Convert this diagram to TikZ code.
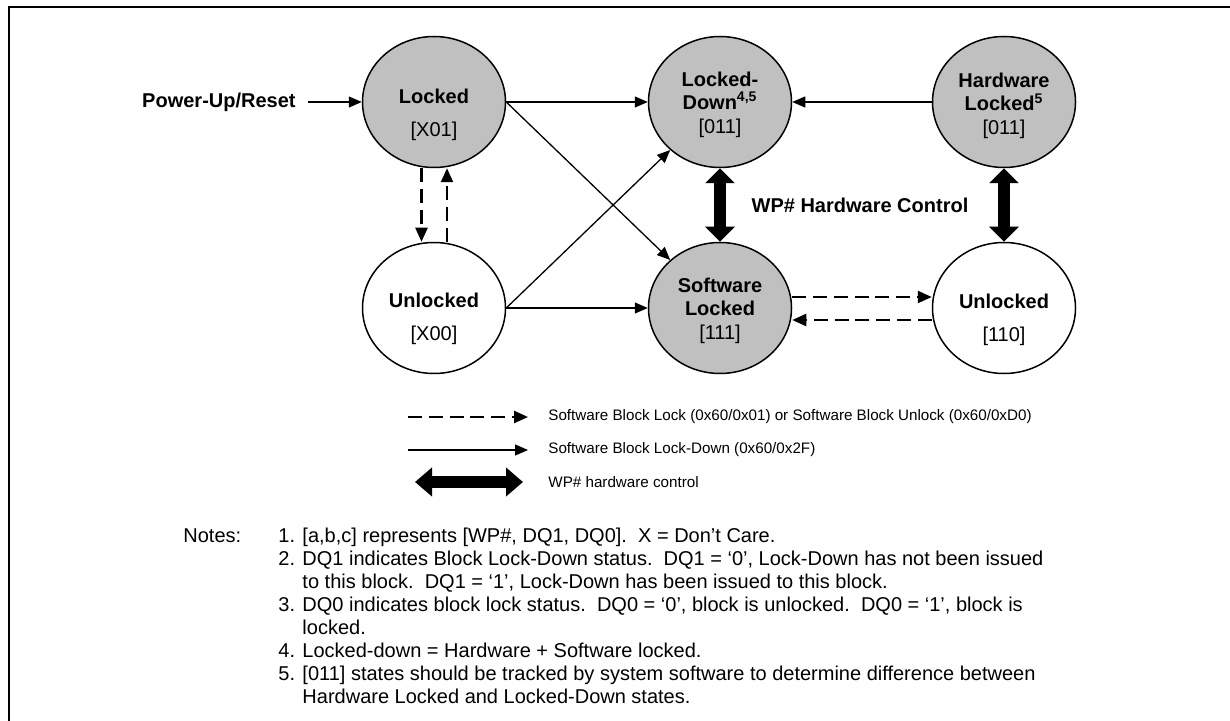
\documentclass[tikz,border=0pt]{standalone}
\usepackage{fontspec}
\setmainfont{Liberation Sans}
\usetikzlibrary{calc}
\usetikzlibrary{arrows.meta}
\usetikzlibrary{shapes.geometric}
\definecolor{lockgray}{HTML}{C0C0C0}

\begin{document}
\begin{tikzpicture}[x=.5pt, y=-.5pt,
  state/.style={ellipse, draw, line width=.75pt, minimum width=71.5pt, minimum height=65.5pt, inner sep=0},
  lbl/.style={align=center, font=\fontsize{10}{11.5}\selectfont},
  legtxt/.style={anchor=west, inner sep=0, font=\fontsize{7.6}{9}\selectfont},
  ldarrow/.style={line width=.65pt, -{Triangle[length=6.5pt,width=5.5pt]}},
  swarrow/.style={line width=1.2pt, dash pattern=on 7pt off 3.4pt, -{Triangle[length=7pt,width=6pt]}},
  wparrow/.style={line width=6pt, {Triangle[length=7.5pt,width=14.5pt]}-{Triangle[length=7.5pt,width=14.5pt]}}]
\useasboundingbox (0,0) rectangle (1230,721);
\draw[line width=1pt] (1230,7.5) -- (8.5,7.5) -- (8.5,721);

% states
\foreach \n/\x/\y/\c in {lk/434/102/lockgray, ul/434/308/white, ld/720/102/lockgray,
                         hl/1004/102/lockgray, sl/720/308/lockgray, ur/1004/308/white}
  \node[state, fill=\c] (\n) at (\x,\y) {};

\node[lbl] (lkt) at (434,114.5) {\textbf{Locked}\\[5pt][X01]};
\node[lbl] (ult) at (434,319) {\textbf{Unlocked}\\[5pt][X00]};
\node[lbl] (ldt) at (720,104.5) {\textbf{Locked-}\\\textbf{Down\textsuperscript{4,5}}\\[.5pt][011]};
\node[lbl] (hlt) at (1004,106) {\textbf{Hardware}\\\textbf{Locked\textsuperscript{5}}\\[.5pt][011]};
\node[lbl] (slt) at (720,310.5) {\textbf{Software}\\\textbf{Locked}\\[.5pt][111]};
\node[lbl] (urt) at (1004,320) {\textbf{Unlocked}\\[5pt][110]};

\node[lbl, anchor=east, inner sep=6pt] (pwr) at (308,102) {\textbf{Power-Up/Reset}};
\node[lbl] (wpc) at (860,205) {\textbf{WP\# Hardware Control}};

% transitions
\draw[ldarrow] (pwr.east) -- (lk);
\draw[ldarrow] (lk) -- (ld);
\draw[ldarrow] (lk.east) -- (sl);
\draw[ldarrow] (ul.east) -- (ld);
\draw[ldarrow] (ul) -- (sl);
\draw[ldarrow] (hl) -- (ld);
\draw[swarrow] ([xshift=-6.25pt]lk.south) -- ([xshift=-6.25pt]ul.north);
\draw[swarrow] ([xshift=6.5pt]ul.north) -- ([xshift=6.5pt]lk.south);
\draw[swarrow] ([yshift=5.5pt]sl.east) -- ([yshift=5.5pt]ur.west);
\draw[swarrow] ([yshift=-6pt]ur.west) -- ([yshift=-6pt]sl.east);
\draw[wparrow] (ld) -- (sl);
\draw[wparrow] (hl) -- (ur);

% legend
\node[legtxt] (leg1) at (548,417) {Software Block Lock (0x60/0x01) or Software Block Unlock (0x60/0xD0)};
\node[legtxt] (leg2) at (548,450) {Software Block Lock-Down (0x60/0x2F)};
\node[legtxt] (leg3) at (548,482) {WP\# hardware control};
\coordinate (l1) at (408,417);
\coordinate (l2) at (408,450);
\coordinate (l3) at (415,482);
\draw[swarrow] (l1) -- ([xshift=-10pt]leg1.west);
\draw[ldarrow] (l2) -- ([xshift=-10pt]leg2.west);
\draw[line width=6pt, {Triangle[length=8.5pt,width=14pt]}-{Triangle[length=8.5pt,width=14pt]}] (l3) -- ([xshift=-12.5pt]leg3.west);

% notes
\node[anchor=north west, inner sep=0, font=\fontsize{10}{11.5}\selectfont] (notes) at (183,526) {%
\begin{tabular}{@{}p{47.5pt}@{}l@{}}
Notes: & 1. [a,b,c] represents [WP\#, DQ1, DQ0].\ \ X = Don’t Care.\\
 & 2. DQ1 indicates Block Lock-Down status.\ \ DQ1 = ‘0’, Lock-Down has not been issued\\
 & \hphantom{2. }to this block.\ \ DQ1 = ‘1’, Lock-Down has been issued to this block.\\
 & 3. DQ0 indicates block lock status.\ \ DQ0 = ‘0’, block is unlocked.\ \ DQ0 = ‘1’, block is\\
 & \hphantom{3. }locked.\\
 & 4. Locked-down = Hardware + Software locked.\\
 & 5. [011] states should be tracked by system software to determine difference between\\
 & \hphantom{5. }Hardware Locked and Locked-Down states.
\end{tabular}};
\end{tikzpicture}
\end{document}
